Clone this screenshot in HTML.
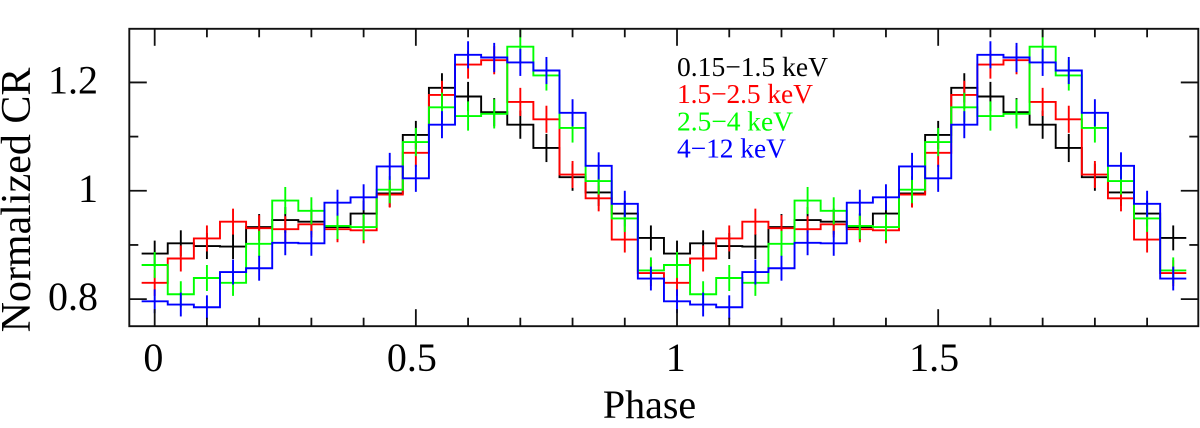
<!DOCTYPE html>
<html lang="en">
<head>
<meta charset="utf-8">
<title>Normalized CR vs Phase</title>
<style>
html,body{margin:0;padding:0;background:#fff;width:1200px;height:428px;overflow:hidden}
svg{display:block}
text{font-family:"Liberation Serif",serif;fill:#000}
</style>
</head>
<body>
<svg id="chart" width="1200" height="428" viewBox="0 0 1200 428" xmlns="http://www.w3.org/2000/svg">
  <g id="series-layer"></g>
  <g id="axis-layer"></g>
  <text x="649.5" y="418" font-size="40" text-anchor="middle">Phase</text>
  <text transform="translate(30,200) rotate(-90)" font-size="42" text-anchor="middle">Normalized CR</text>
  <g font-size="27.5">
    <text x="677" y="76" style="fill:#000000" textLength="151">0.15−1.5 keV</text>
    <text x="677" y="103" style="fill:#ff0000" textLength="136">1.5−2.5 keV</text>
    <text x="677" y="130.5" style="fill:#00ff00" textLength="116">2.5−4 keV</text>
    <text x="677" y="157.5" style="fill:#0000ff" textLength="109">4−12 keV</text>
  </g>
</svg>
<script>
// One folded cycle of 20 phase bins (drawn twice, phase 0-2)
const binCenters = [0,0.05,0.1,0.15,0.2,0.25,0.3,0.35,0.4,0.45,0.5,0.55,0.6,0.65,0.7,0.75,0.8,0.85,0.9,0.95];
const black = [0.884,0.903,0.898,0.897,0.933,0.946,0.943,0.933,0.958,0.995,1.103,1.190,1.174,1.145,1.122,1.079,1.025,0.997,0.958,0.913];
const red = [0.830,0.875,0.912,0.943,0.931,0.929,0.938,0.929,0.927,0.993,1.070,1.177,1.233,1.241,1.164,1.132,1.030,0.986,0.910,0.848];
const green = [0.863,0.809,0.839,0.830,0.902,0.982,0.963,0.935,0.933,1.002,1.090,1.154,1.138,1.142,1.266,1.213,1.116,1.018,0.949,0.853];
const blue = [0.796,0.790,0.785,0.850,0.857,0.904,0.903,0.978,0.988,1.045,1.023,1.122,1.251,1.246,1.237,1.222,1.144,1.046,0.976,0.838];
const blackErr = [0.024,0.024,0.024,0.023,0.024,0.024,0.024,0.024,0.024,0.025,0.026,0.027,0.027,0.026,0.026,0.026,0.025,0.025,0.024,0.023];
const redErr = [0.024,0.024,0.024,0.024,0.024,0.024,0.024,0.024,0.024,0.024,0.026,0.026,0.026,0.026,0.026,0.025,0.025,0.024,0.024,0.024];
const greenErr = [0.024,0.024,0.024,0.024,0.024,0.025,0.025,0.024,0.024,0.025,0.026,0.027,0.027,0.027,0.031,0.028,0.027,0.025,0.025,0.024];
const blueErr = [0.022,0.022,0.022,0.023,0.023,0.023,0.023,0.024,0.024,0.025,0.025,0.025,0.025,0.027,0.025,0.025,0.025,0.025,0.024,0.022];
const binHalfWidth = 0.025;
const cycleOffsets = [0,1];
const xTickLabels = ["0","0.5","1","1.5"];
const xMajorTicks = [0,0.5,1,1.5];
const xMinorTicks = [0.1,0.2,0.3,0.4,0.6,0.7,0.8,0.9,1.1,1.2,1.3,1.4,1.6,1.7,1.8,1.9];
const yTickLabels = ["0.8","1","1.2"];
const yMajorTicks = [0.8,1,1.2];
const yMinorTicks = [0.9,1.1];

const plot = {left:129.3,right:1198.3,top:28.8,bottom:326.2};
const xDomain = [-0.0486,1.998];
const yDomain = [0.75,1.299];
function xScale(p){return plot.left+(p-xDomain[0])/(xDomain[1]-xDomain[0])*(plot.right-plot.left);}
function yScale(v){return plot.bottom-(v-yDomain[0])/(yDomain[1]-yDomain[0])*(plot.bottom-plot.top);}

const NS='http://www.w3.org/2000/svg';
const seriesLayer=document.getElementById('series-layer');
const axisLayer=document.getElementById('axis-layer');

function addLine(parent,x1,y1,x2,y2,color,width){
  const l=document.createElementNS(NS,'line');
  l.setAttribute('x1',x1);l.setAttribute('y1',y1);l.setAttribute('x2',x2);l.setAttribute('y2',y2);
  l.setAttribute('stroke',color);l.setAttribute('stroke-width',width);
  parent.appendChild(l);
  return l;
}

function drawSeries(name,color,values,errors){
  const g=document.createElementNS(NS,'g');
  
  
  seriesLayer.appendChild(g);
  let d='';
  cycleOffsets.forEach(function(off){
    binCenters.forEach(function(c,i){
      const p=c+off;
      const y=yScale(values[i]);
      d+=(d?'L':'M')+xScale(p-binHalfWidth).toFixed(2)+' '+y.toFixed(2)+'L'+xScale(p+binHalfWidth).toFixed(2)+' '+y.toFixed(2);
      const top=Math.max(yScale(values[i]+errors[i]),plot.top);
      const bar=addLine(g,xScale(p),top,xScale(p),yScale(values[i]-errors[i]),color,1.9);
      
      
    });
  });
  const path=document.createElementNS(NS,'path');
  path.setAttribute('d',d);
  path.setAttribute('fill','none');
  path.setAttribute('stroke',color);
  path.setAttribute('stroke-width','1.9');
  path.setAttribute('stroke-linejoin','miter');
  
  
  g.appendChild(path);
}
drawSeries('series-0-15-1-5-kev','#000000',black,blackErr);
drawSeries('series-1-5-2-5-kev','#ff0000',red,redErr);
drawSeries('series-2-5-4-kev','#00ff00',green,greenErr);
drawSeries('series-4-12-kev','#0000ff',blue,blueErr);

// frame
const frame=document.createElementNS(NS,'rect');
frame.setAttribute('x',plot.left);
frame.setAttribute('y',plot.top);
frame.setAttribute('width',plot.right-plot.left);
frame.setAttribute('height',plot.bottom-plot.top);
frame.setAttribute('fill','none');
frame.setAttribute('stroke','#111');
frame.setAttribute('stroke-width','1.9');


axisLayer.appendChild(frame);

function xTick(p,len){
  const x=xScale(p);
  const a=addLine(axisLayer,x,plot.top,x,plot.top+len,'#111',1.8);
  
  
  const b=addLine(axisLayer,x,plot.bottom,x,plot.bottom-len,'#111',1.8);
  
  
}
function yTick(v,len){
  const y=yScale(v);
  const a=addLine(axisLayer,plot.left,y,plot.left+len,y,'#111',1.8);
  
  
  const b=addLine(axisLayer,plot.right,y,plot.right-len,y,'#111',1.8);
  
  
}
xMajorTicks.forEach(function(p){xTick(p,17);});
xMinorTicks.forEach(function(p){xTick(p,8.5);});
yMajorTicks.forEach(function(v){yTick(v,17.5);});
yMinorTicks.forEach(function(v){yTick(v,9);});

function addLabel(str,x,y,anchor){
  const t=document.createElementNS(NS,'text');
  t.textContent=str;
  t.setAttribute('x',x);
  t.setAttribute('y',y);
  t.setAttribute('font-size','40');
  t.setAttribute('text-anchor',anchor);
  axisLayer.appendChild(t);
  return t;
}
xMajorTicks.forEach(function(p,i){
  const label=xTickLabels[i];
  const dx=label.length>1?-4:-1.3;
  const t=addLabel(label,xScale(p)+dx,371,'middle');
  
  
});
yMajorTicks.forEach(function(v,i){
  const t=addLabel(yTickLabels[i],98,yScale(v)+11,'end');
  
  
});
</script>
</body>
</html>
